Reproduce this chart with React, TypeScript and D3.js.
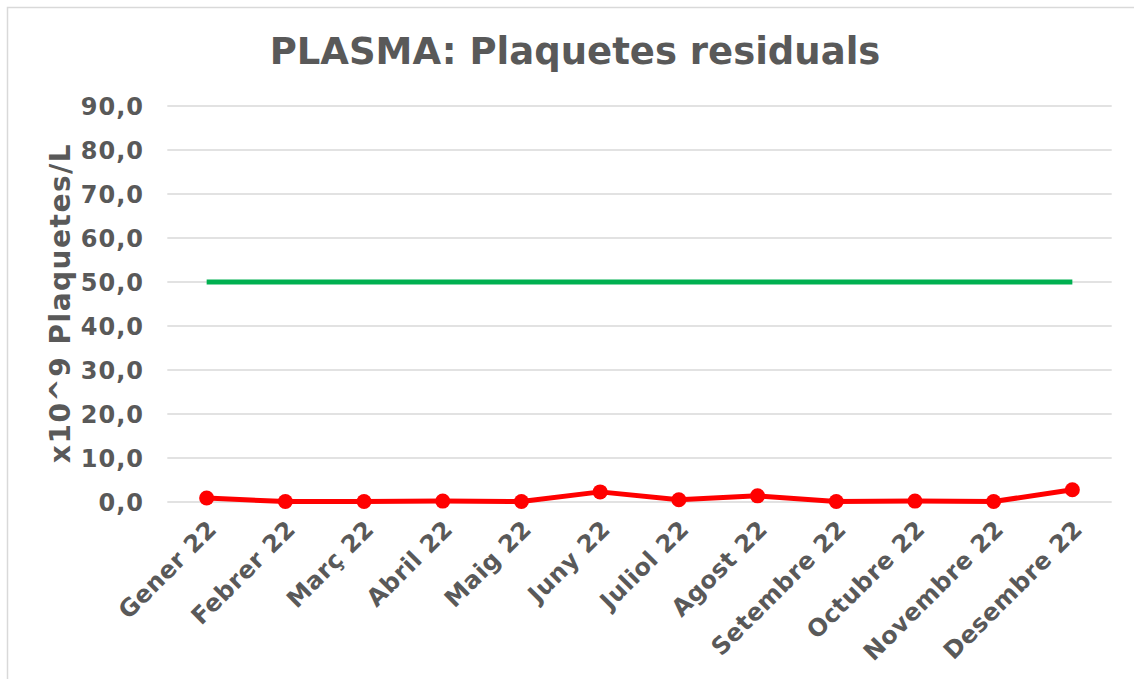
import React from "react";
import * as d3 from "d3";

const months = [
  "Gener 22", "Febrer 22", "Març 22", "Abril 22", "Maig 22", "Juny 22",
  "Juliol 22", "Agost 22", "Setembre 22", "Octubre 22", "Novembre 22", "Desembre 22",
];
const residualValues = [0.9, 0.1, 0.1, 0.2, 0.1, 2.3, 0.5, 1.4, 0.1, 0.2, 0.1, 2.8];
const limitValues = [50, 50, 50, 50, 50, 50, 50, 50, 50, 50, 50, 50];
const yTicks = [0, 10, 20, 30, 40, 50, 60, 70, 80, 90];

const W = 1134;
const H = 679;
const plot = { left: 167.3, right: 1111.7, top: 106, bottom: 502 };
const textColor = "#595959";
const font = "'DejaVu Sans', Verdana, sans-serif";

export default function App() {
  const x = d3.scalePoint<string>().domain(months).range([plot.left, plot.right]).padding(0.5);
  const y = d3.scaleLinear().domain([0, 90]).range([plot.bottom, plot.top]);
  const line = d3
    .line<number>()
    .x((_, i) => x(months[i]) as number)
    .y((d) => y(d));
  const fmt = (v: number) => v.toFixed(1).replace(".", ",");

  return (
    <svg
      width={W}
      height={H}
      style={{ position: "absolute", left: 0, top: 0, background: "#fff" }}
      fontFamily={font}
    >
      <rect x={7.5} y={7.5} width={W + 20} height={H + 20} fill="#fff" stroke="#D9D9D9" strokeWidth={1.5} />
      <text x={575} y={64} textAnchor="middle" fontSize={37} fontWeight="bold" fill={textColor}>
        PLASMA: Plaquetes residuals
      </text>
      {yTicks.map((t) => (
        <g key={t}>
          <line x1={plot.left} x2={plot.right} y1={y(t)} y2={y(t)} stroke="#D9D9D9" strokeWidth={1.5} />
          <text x={144} y={y(t)} dy="0.36em" textAnchor="end" fontSize={24} letterSpacing={1} fontWeight="bold" fill={textColor}>
            {fmt(t)}
          </text>
        </g>
      ))}
      <text
        transform={`translate(70, 303) rotate(-90)`}
        textAnchor="middle"
        fontSize={28}
        letterSpacing={1.5}
        fontWeight="bold"
        fill={textColor}
      >
        x10^9 Plaquetes/L
      </text>
      {months.map((m) => (
        <text
          key={m}
          transform={`translate(${(x(m) as number) + 3}, 522) rotate(-45)`}
          textAnchor="end"
          dy="0.5em"
          fontSize={24}
          letterSpacing={0.5}
          fontWeight="bold"
          fill={textColor}
        >
          {m}
        </text>
      ))}
      <path d={line(limitValues) as string} fill="none" stroke="#00B050" strokeWidth={5} />
      <path d={line(residualValues) as string} fill="none" stroke="#FF0000" strokeWidth={5} strokeLinejoin="round" />
      {residualValues.map((v, i) => (
        <circle key={i} cx={x(months[i]) as number} cy={y(v)} r={7.5} fill="#FF0000" />
      ))}
    </svg>
  );
}
